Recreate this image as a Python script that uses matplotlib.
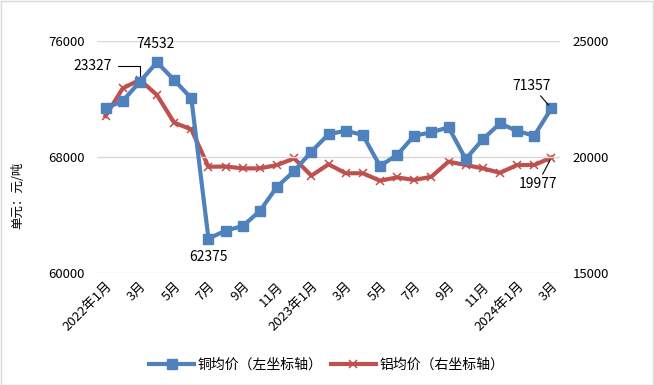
import matplotlib
matplotlib.use("Agg")
import matplotlib.pyplot as plt
from matplotlib.lines import Line2D
from matplotlib.patches import Rectangle

plt.rcParams['font.family'] = ['Noto Sans CJK SC', 'DejaVu Sans']

months = ['2022年1月', '2月', '3月', '4月', '5月', '6月', '7月', '8月', '9月', '10月', '11月', '12月',
          '2023年1月', '2月', '3月', '4月', '5月', '6月', '7月', '8月', '9月', '10月', '11月', '12月',
          '2024年1月', '2月', '3月']
copper = [71360, 71860, 73195, 74532, 73310, 72050, 62375, 62920, 63240, 64280, 65950, 67030,
          68370, 69570, 69810, 69520, 67380, 68140, 69470, 69700, 70050, 67860, 69220, 70320,
          69790, 69470, 71357]
aluminum = [21770, 22960, 23327, 22670, 21480, 21190, 19580, 19590, 19510, 19510, 19655, 19940,
            19195, 19685, 19300, 19300, 18980, 19120, 19010, 19150, 19800, 19655, 19510, 19320,
            19655, 19655, 19977]
left_ticks = [60000, 68000, 76000]
right_ticks = [15000, 20000, 25000]

blue = '#4F81BD'
red = '#C0504D'

fig = plt.figure(figsize=(6.54, 3.85), dpi=100)
ax = fig.add_axes([97/654, 1-273/385, (560-97)/654, (273-41)/385])
ax2 = ax.twinx()

x = list(range(len(months)))
ax.plot(x, copper, color=blue, lw=3, marker='s', ms=6.5, zorder=3)
ax2.plot(x, aluminum, color=red, lw=3, marker='x', ms=5.5, mew=1.1, zorder=2)
ax.set_zorder(ax2.get_zorder() + 1)
ax.patch.set_visible(False)

ax.set_xlim(-0.5, len(months) - 0.5)
ax.set_ylim(60000, 76000)
ax2.set_ylim(15000, 25000)
ax.set_yticks(left_ticks)
ax2.set_yticks(right_ticks)
ax.set_xticks(x[::2])
ax.set_xticklabels(months[::2], rotation=45, ha='right', rotation_mode='anchor', fontsize=9.5)
for a in (ax, ax2):
    a.tick_params(axis='both', length=0, labelsize=9.5)
    for s in a.spines.values():
        s.set_visible(False)
ax.tick_params(axis='y', pad=9)
ax2.tick_params(axis='y', pad=9)
ax.tick_params(axis='x', pad=5)
ax.grid(axis='y', color='#D9D9D9', lw=1)

# annotations
i_max = copper.index(max(copper))
ax.annotate(str(copper[i_max]), (x[i_max], copper[i_max]), xytext=(-1, 8), textcoords='offset points',
            ha='center', va='bottom', fontsize=10)
i_min = copper.index(min(copper))
ax.annotate(str(copper[i_min]), (x[i_min], copper[i_min]), xytext=(0, -8), textcoords='offset points',
            ha='center', va='top', fontsize=10)
ax.annotate(str(copper[-1]), (x[-1], copper[-1]), xytext=(-14, 11), textcoords='offset points',
            ha='center', va='bottom', fontsize=10,
            arrowprops=dict(arrowstyle='-', color='black', lw=0.8, shrinkA=0, shrinkB=3))
i_amax = aluminum.index(max(aluminum))
ax2.annotate(str(aluminum[i_amax]), (x[i_amax], aluminum[i_amax]), xytext=(-20, 10), textcoords='offset points',
             ha='right', va='center', fontsize=10,
             arrowprops=dict(arrowstyle='-', color='black', lw=0.8, shrinkA=2, shrinkB=2,
                             connectionstyle='angle,angleA=0,angleB=90,rad=0'))
ax2.annotate(str(aluminum[-1]), (x[-1], aluminum[-1]), xytext=(-10, -14), textcoords='offset points',
             ha='center', va='top', fontsize=10,
             arrowprops=dict(arrowstyle='-', color='black', lw=0.8, shrinkA=0, shrinkB=2))

fig.text(18/654, 1-195/385, '单元：元/吨', rotation=90, ha='center', va='center', fontsize=9)

handles = [Line2D([], [], color=blue, lw=3, marker='s', ms=6.5),
           Line2D([], [], color=red, lw=3, marker='x', ms=5.5, mew=1.1)]
fig.legend(handles, ['铜均价（左坐标轴）', '铝均价（右坐标轴）'], loc='center',
           bbox_to_anchor=(0.5, 1-365/385), ncol=2, frameon=False, fontsize=10,
           handlelength=3.2, columnspacing=0.6, handletextpad=0.3)

fig.patches.append(Rectangle((0.001, 0.001), 0.997, 0.997, transform=fig.transFigure,
                             fill=False, edgecolor='#D9D9D9', lw=1))

fig.savefig('out.png', dpi=100)
